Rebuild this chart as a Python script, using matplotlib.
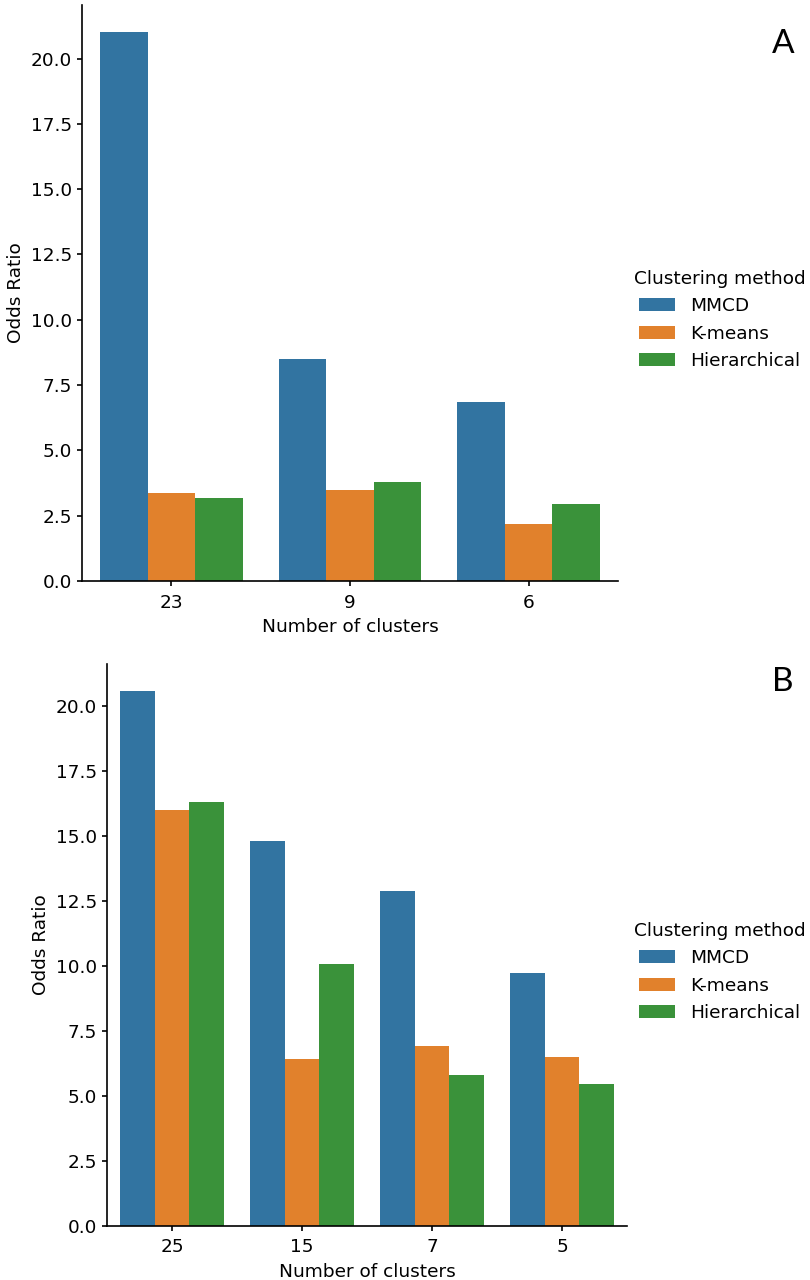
import numpy as np
import matplotlib
matplotlib.use("Agg")
from matplotlib import pyplot as plt
from matplotlib.patches import Patch

# 聚类方法
methods = ["MMCD", "K-means", "Hierarchical"]
colors = ["#3274a1", "#e1812c", "#3a923a"]  # seaborn 默认（饱和度0.75）

# A 图
clusters_a = ["23", "9", "6"]
mmcd_a = [21.0, 8.50, 6.85]
kmeans_a = [3.35, 3.50, 2.17]
hier_a = [3.19, 3.79, 2.93]

# B 图
clusters_b = ["25", "15", "7", "5"]
mmcd_b = [20.57, 14.81, 12.86, 9.72]
kmeans_b = [15.99, 6.40, 6.92, 6.51]
hier_b = [16.29, 10.06, 5.79, 5.44]

FS = 13.3
plt.rcParams["font.size"] = FS
plt.rcParams["axes.linewidth"] = 1.2
plt.rcParams["xtick.major.width"] = 1.2
plt.rcParams["ytick.major.width"] = 1.2
plt.rcParams["xtick.major.pad"] = 5.5


def grouped_bar(ax, cats, series):
    n = len(series)
    width = 0.8 / n
    x = np.arange(len(cats))
    for i, vals in enumerate(series):
        offset = -0.4 + width * (i + 0.5)
        ax.bar(x + offset, vals, width=width, color=colors[i], label=methods[i])
    ax.set_xticks(x)
    ax.set_xticklabels(cats)
    ax.set_xlim(-0.5, len(cats) - 0.5)
    top = max(max(s) for s in series)
    ax.set_ylim(0, top * 1.05)
    ax.set_yticks(np.arange(0, top, 2.5))
    ax.yaxis.set_major_formatter(matplotlib.ticker.FormatStrFormatter("%.1f"))
    ax.set_xlabel("Number of clusters", labelpad=5)
    ax.set_ylabel("Odds Ratio")
    ax.spines["top"].set_visible(False)
    ax.spines["right"].set_visible(False)


W, H = 810, 1280
fig = plt.figure(figsize=(W / 100, H / 100), dpi=100)

ax1 = fig.add_axes([82 / W, 1 - 581 / H, 536 / W, 576 / H])
grouped_bar(ax1, clusters_a, [mmcd_a, kmeans_a, hier_a])

ax2 = fig.add_axes([107 / W, 1 - 1226 / H, 520 / W, 562 / H])
grouped_bar(ax2, clusters_b, [mmcd_b, kmeans_b, hier_b])

handles = [Patch(facecolor=c) for c in colors]
for yc in (320, 972):
    fig.legend(handles, methods, title="Clustering method", title_fontsize=FS,
               loc="center left", bbox_to_anchor=(617 / W, 1 - yc / H),
               frameon=False, labelspacing=0.5, handlelength=2.0, handletextpad=0.8)

fig.text(783 / W, 1 - 44 / H, "A", fontsize=24, family="Lato", ha="center", va="center")
fig.text(783 / W, 1 - 682 / H, "B", fontsize=24, family="Lato", ha="center", va="center")

fig.savefig("out.png", dpi=100)
